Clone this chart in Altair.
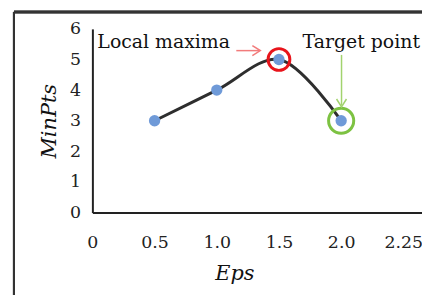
import altair as alt
import pandas as pd

# data
eps = [0.5, 1.0, 1.5, 2.0]
minpts = [3, 4, 5, 3]
x_ticks = [0, 0.5, 1.0, 1.5, 2.0, 2.5]
y_ticks = [0, 1, 2, 3, 4, 5, 6]

# annotations
maxima_idx = 2
target_idx = 3
labels_text = ["Local maxima", "Target point"]
labels_x = [0.04, 1.69]
labels_y = [5.36, 5.36]

df = pd.DataFrame({"eps": eps, "minpts": minpts})
hl_max = pd.DataFrame({"eps": [eps[maxima_idx]], "minpts": [minpts[maxima_idx]]})
hl_tgt = pd.DataFrame({"eps": [eps[target_idx]], "minpts": [minpts[target_idx]]})
ann = pd.DataFrame({"eps": labels_x, "minpts": labels_y, "t": labels_text})

red_shaft = pd.DataFrame({"eps": [1.157], "x2": [1.345], "minpts": [5.29]})
red_head = pd.DataFrame({"eps": [1.35], "minpts": [5.29]})
green_shaft = pd.DataFrame({"eps": [2.003], "minpts": [5.15], "y2": [3.5]})
green_head = pd.DataFrame({"eps": [2.003], "minpts": [3.45]})

xs = alt.Scale(domain=[0, 2.65], nice=False, zero=False)
ys = alt.Scale(domain=[0, 6], nice=False)

x_axis = alt.Axis(
    values=x_ticks, title="Eps", titleFont="DejaVu Serif", titleFontStyle="italic",
    titleFontWeight="normal", titleFontSize=21, titleColor="#111", titlePadding=12,
    titleX=143, titleAlign="center",
    labelExpr="datum.value == 0 ? '0' : (datum.value == 2.5 ? '2.25' : format(datum.value, '.1f'))",
    labelPadding=21, labelFontSize=17.5, labelFont="DejaVu Serif", labelColor="#222",
    labelFlush=False, labelOverlap=False,
    ticks=False, grid=False, domainColor="#222", domainWidth=2)
y_axis = alt.Axis(
    values=y_ticks, title="MinPts", titleFont="DejaVu Serif", titleFontStyle="italic",
    titleFontWeight="normal", titleFontSize=21, titleColor="#111", titlePadding=10,
    labelPadding=12, labelFontSize=17.5, labelFont="DejaVu Serif", labelColor="#222",
    labelFlush=False, labelOverlap=False,
    ticks=False, grid=False, domainColor="#222", domainWidth=2)

X = alt.X("eps:Q", scale=xs, axis=x_axis)
Y = alt.Y("minpts:Q", scale=ys, axis=y_axis)

line = alt.Chart(df).mark_line(color="#2e2e2e", strokeWidth=3, interpolate="catmull-rom").encode(x=X, y=Y)
pts = alt.Chart(df).mark_point(filled=True, color="#6f9ad8", size=130, opacity=1).encode(x=X, y=Y)
ring_r = alt.Chart(hl_max).mark_point(filled=False, color="#e8141b", strokeWidth=3, size=480, opacity=1).encode(x=X, y=Y)
ring_g = alt.Chart(hl_tgt).mark_point(filled=False, color="#7dc242", strokeWidth=3, size=640, opacity=1).encode(x=X, y=Y)

texts = alt.Chart(ann).mark_text(align="left", baseline="alphabetic", font="DejaVu Serif",
                                 fontSize=19, color="#111").encode(x=X, y=Y, text="t:N")

rs = alt.Chart(red_shaft).mark_rule(color="#f27b7b", strokeWidth=1.5).encode(x=X, x2="x2:Q", y=Y)
rh = alt.Chart(red_head).mark_point(shape="M -1.6 -1 L 0 0 L -1.6 1", filled=False, color="#f27b7b",
                                    strokeWidth=1.5, size=100, opacity=1).encode(x=X, y=Y)
gs = alt.Chart(green_shaft).mark_rule(color="#a2d36e", strokeWidth=1.5).encode(x=X, y=Y, y2="y2:Q")
gh = alt.Chart(green_head).mark_point(shape="M -1 -1.6 L 0 0 L 1 -1.6", filled=False, color="#a2d36e",
                                      strokeWidth=1.5, size=100, opacity=1).encode(x=X, y=Y)

frame_top = alt.Chart(df).mark_rule(color="#333", strokeWidth=2.5).encode(
    x=alt.value(-79), x2=alt.value(340), y=alt.value(-17))
frame_left = alt.Chart(df).mark_rule(color="#333", strokeWidth=2).encode(
    x=alt.value(-79), y=alt.value(-17), y2=alt.value(300))

chart = alt.layer(line, pts, ring_r, ring_g, texts, rs, rh, gs, gh, frame_top, frame_left).properties(
    width=332, height=185, autosize="none", background="white",
    padding={"left": 85, "top": 20, "right": 0, "bottom": 82},
).configure_view(stroke=None)

chart.save("out.html", embed_options={"renderer": "svg", "actions": False})
